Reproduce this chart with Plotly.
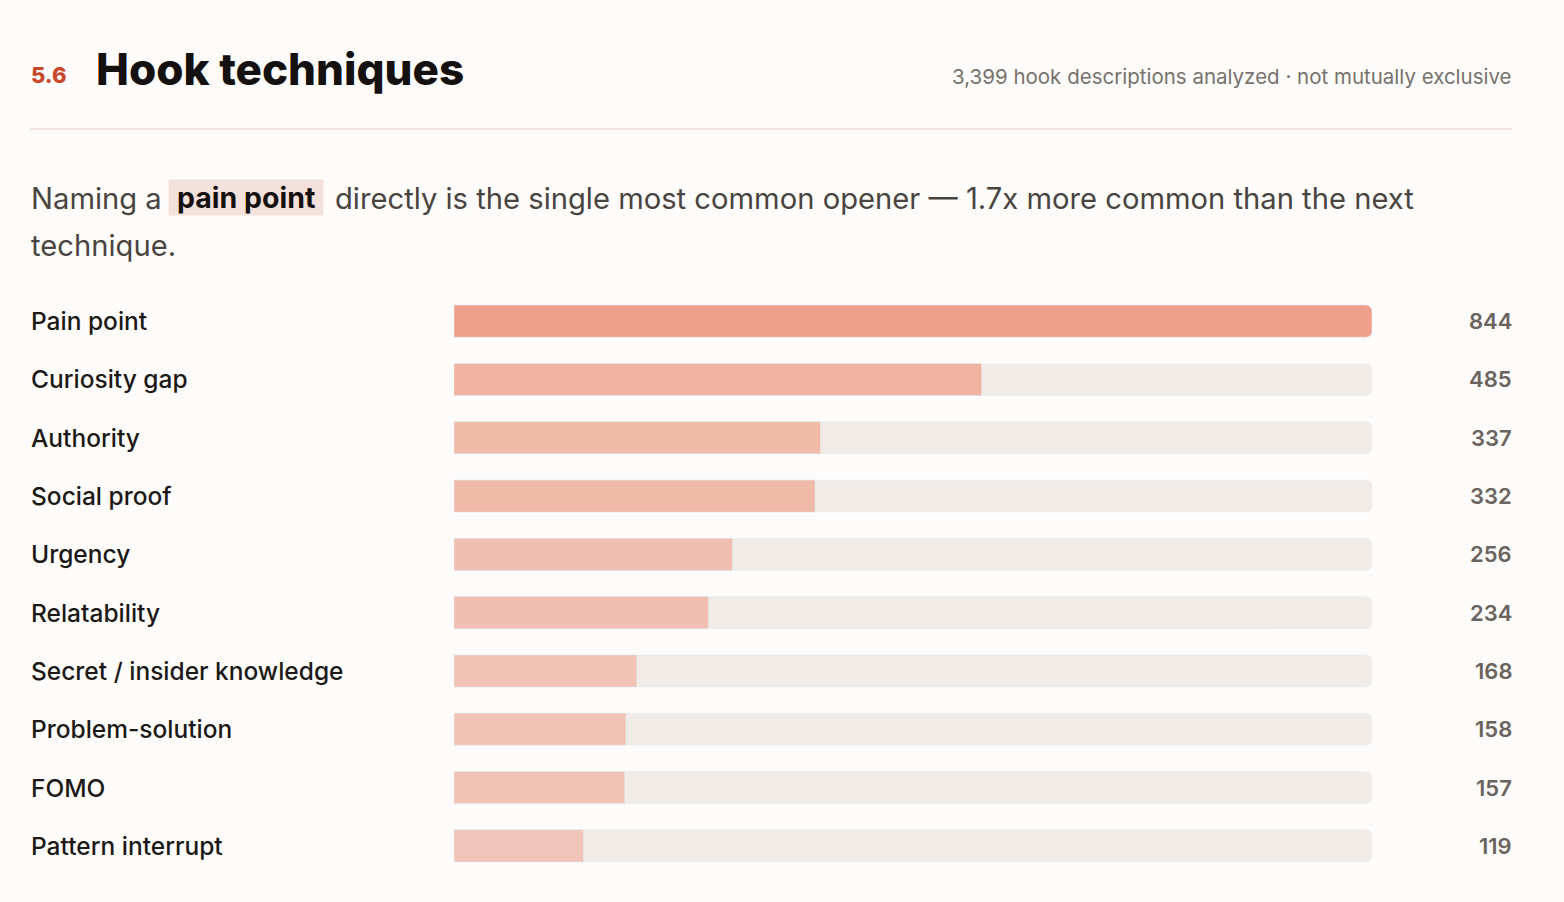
import plotly.graph_objects as go

# Data
techniques = ['Pain point', 'Curiosity gap', 'Authority', 'Social proof', 'Urgency',
              'Relatability', 'Secret / insider knowledge', 'Problem-solution', 'FOMO',
              'Pattern interrupt']
counts = [844, 485, 337, 332, 256, 234, 168, 158, 157, 119]
bar_colors = ['#F0A08A', '#F0B3A1', '#F0BAA9', '#F0BAA9', '#F0BFB1',
              '#F0BFB1', '#F0C3B5', '#F0C3B5', '#F0C3B5', '#F0C4B7']

W, H = 1564, 902
BG = '#FDFCFB'
FONT = 'Inter'


def px_x(x):
    # pixel -> paper x
    return x / W


def px_y(y):
    # pixel (from top) -> paper y
    return 1 - y / H


track_max = max(counts)

fig = go.Figure()

# Grey tracks behind the bars
fig.add_trace(go.Bar(
    x=[track_max] * len(techniques), y=techniques, orientation='h',
    marker=dict(color='#F0EBE6', cornerradius=6), width=0.55,
    hoverinfo='skip', showlegend=False))

# Actual values
fig.add_trace(go.Bar(
    x=counts, y=techniques, orientation='h',
    marker=dict(color=bar_colors, cornerradius=6),
    width=0.55, showlegend=False,
    hovertemplate='%{y}: %{x}<extra></extra>'))

annotations = []

# Row labels and values
for name, val in zip(techniques, counts):
    annotations.append(dict(x=px_x(29), xref='paper', y=name, yref='y', text=name,
                            showarrow=False, xanchor='left', yanchor='middle',
                            font=dict(family=FONT, size=24.5, color='#1C1917', weight=500)))
    annotations.append(dict(x=px_x(1514), xref='paper', y=name, yref='y', text=str(val),
                            showarrow=False, xanchor='right', yanchor='middle',
                            font=dict(family=FONT, size=22, color='#6B635D', weight=600)))

# Header
annotations.append(dict(x=px_x(29), y=px_y(75), xref='paper', yref='paper', text='5.6',
                        showarrow=False, xanchor='left', yanchor='middle',
                        font=dict(family=FONT, size=22, color='#C9472B', weight=800)))
annotations.append(dict(x=px_x(94), y=px_y(69), xref='paper', yref='paper', text='Hook techniques',
                        showarrow=False, xanchor='left', yanchor='middle',
                        font=dict(family=FONT, size=44, color='#141110', weight=800)))
annotations.append(dict(x=px_x(1514), y=px_y(77), xref='paper', yref='paper',
                        text='3,399 hook descriptions analyzed · not mutually exclusive',
                        showarrow=False, xanchor='right', yanchor='middle',
                        font=dict(family=FONT, size=20.5, color='#78716C')))

# Lead sentence
body_font = dict(family=FONT, size=29.2, color='#4A4440')
annotations.append(dict(x=px_x(29), y=px_y(199), xref='paper', yref='paper', text='Naming a',
                        showarrow=False, xanchor='left', yanchor='middle', font=body_font))
annotations.append(dict(x=px_x(168), y=px_y(198), xref='paper', yref='paper',
                        text='\u00a0<b>pain point</b>\u00a0',
                        showarrow=False, xanchor='left', yanchor='middle',
                        bgcolor='#F5E1DB', borderpad=0,
                        font=dict(family=FONT, size=28.5, color='#141110')))
annotations.append(dict(x=px_x(333), y=px_y(199), xref='paper', yref='paper',
                        text='directly is the single most common opener — 1.7x more common than the next',
                        showarrow=False, xanchor='left', yanchor='middle', font=body_font))
annotations.append(dict(x=px_x(29), y=px_y(246), xref='paper', yref='paper', text='technique.',
                        showarrow=False, xanchor='left', yanchor='middle', font=body_font))

shapes = [dict(type='line', xref='paper', yref='paper', x0=px_x(30), x1=px_x(1512),
               y0=px_y(129), y1=px_y(129), line=dict(color='#F2E2DD', width=2))]

row_top, row_bottom = 292, 875
fig.update_layout(
    width=W, height=H,
    margin=dict(l=0, r=0, t=0, b=0),
    paper_bgcolor=BG, plot_bgcolor=BG,
    barmode='overlay',
    xaxis=dict(domain=[px_x(454), px_x(1372)], range=[0, track_max],
               visible=False, fixedrange=True),
    yaxis=dict(domain=[px_y(row_bottom), px_y(row_top)], range=[len(techniques) - 0.5, -0.5],
               visible=False, fixedrange=True, type='category'),
    annotations=annotations,
    shapes=shapes,
)

# drop the default page margin so the figure sits at the window origin
fig.write_html("out.html", config={'displayModeBar': False},
               post_script="document.body.style.margin='0';document.body.style.background='#FDFCFB';")
